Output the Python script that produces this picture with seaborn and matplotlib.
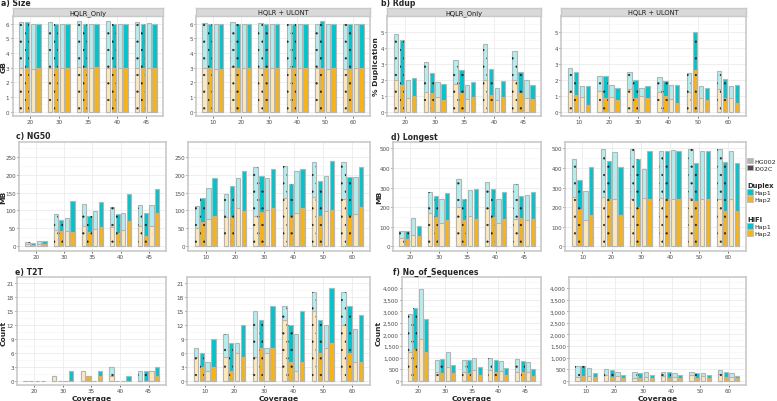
import numpy as np
import pandas as pd
import matplotlib
matplotlib.use("Agg")
import matplotlib.pyplot as plt
from matplotlib.patches import Rectangle, Patch
from matplotlib.ticker import FuncFormatter, MultipleLocator
import seaborn as sns

# --- DATA ---
COV_ONLY = ["20", "30", "35", "40", "45"]
COV_ULONT = ["10", "20", "30", "40", "50", "60"]
# bar order inside each coverage group
BAR_ORDER = ["Duplex HG002", "Duplex I002C", "HiFi HG002", "HiFi I002C"]

# a) Size (GB): total height (Hap1 + Hap2) and Hap2 part
SIZE_ONLY_TOTAL = [[6.1, 6.1, 5.95, 6.0], [6.1, 6.0, 6.0, 6.0], [6.15, 6.0, 5.95, 6.0], [6.15, 6.0, 6.0, 6.0], [6.1, 6.0, 6.05, 6.0]]
SIZE_ONLY_HAP2 = [[3.0, 3.0, 2.9, 2.95], [3.0, 3.0, 2.95, 3.0], [3.05, 3.0, 2.95, 3.05], [3.0, 3.0, 2.95, 3.0], [3.0, 2.95, 3.0, 3.0]]
SIZE_ULONT_TOTAL = [[6.05, 6.0, 5.95, 6.0], [6.1, 6.0, 5.95, 6.0], [6.05, 6.0, 5.95, 6.0], [6.0, 6.0, 6.0, 6.0], [6.0, 6.15, 5.95, 6.0], [6.0, 6.0, 5.95, 6.0]]
SIZE_ULONT_HAP2 = [[3.0, 3.0, 2.9, 2.9], [3.05, 3.0, 2.95, 2.95], [2.95, 3.0, 2.95, 2.95], [3.0, 2.95, 2.95, 2.95], [2.95, 3.0, 2.9, 2.95], [2.9, 2.9, 2.95, 2.95]]

# b) Rdup (% duplication)
RDUP_ONLY_TOTAL = [[4.83, 4.48, 1.95, 2.10], [3.13, 2.39, 1.83, 1.70], [3.26, 2.59, 1.64, 1.87], [4.25, 2.66, 1.45, 1.91], [3.80, 2.51, 1.99, 1.66]]
RDUP_ONLY_HAP2 = [[2.01, 1.64, 0.83, 1.00], [1.20, 1.16, 0.91, 0.73], [1.74, 1.16, 0.79, 0.93], [1.95, 1.06, 0.73, 0.93], [2.01, 1.18, 0.87, 0.77]]
RDUP_ULONT_TOTAL = [[2.70, 2.45, 1.62, 1.58], [2.24, 2.20, 1.64, 1.51], [2.49, 1.95, 1.49, 1.58], [2.18, 1.89, 1.64, 1.68], [2.39, 5.00, 1.58, 1.45], [2.53, 2.03, 1.58, 1.66]]
RDUP_ULONT_HAP2 = [[1.24, 1.04, 0.89, 0.44], [1.27, 0.83, 0.91, 0.73], [1.41, 0.83, 0.95, 0.87], [1.20, 0.95, 0.77, 0.52], [1.24, 2.59, 0.83, 0.71], [1.41, 0.83, 0.87, 0.56]]

# c) NG50 (MB)
NG50_ONLY_TOTAL = [[13, 9, 15, 15], [90, 73, 79, 127], [118, 84, 99, 123], [111, 90, 94, 147], [116, 92, 114, 161]]
NG50_ONLY_HAP2 = [[6, 5, 8, 7], [46, 43, 42, 39], [57, 39, 48, 55], [55, 36, 45, 70], [56, 29, 56, 92]]
NG50_ULONT_TOTAL = [[113, 135, 164, 190], [145, 169, 190, 209], [222, 195, 191, 216], [225, 173, 211, 217], [234, 182, 196, 237], [235, 192, 192, 220]]
NG50_ULONT_HAP2 = [[52, 69, 77, 86], [82, 83, 107, 98], [86, 97, 102, 107], [135, 86, 92, 106], [138, 85, 99, 102], [131, 85, 91, 109]]

# d) Longest (MB)
LONG_ONLY_TOTAL = [[78, 78, 143, 104], [276, 255, 240, 272], [345, 243, 286, 293], [327, 293, 241, 276], [316, 255, 262, 276]]
LONG_ONLY_HAP2 = [[41, 37, 58, 53], [172, 150, 121, 133], [199, 136, 156, 139], [194, 150, 117, 139], [138, 143, 133, 139]]
LONG_ULONT_TOTAL = [[446, 338, 282, 403], [497, 434, 480, 403], [497, 446, 393, 485], [485, 485, 490, 485], [497, 427, 485, 485], [497, 432, 485, 427]]
LONG_ULONT_HAP2 = [[250, 192, 136, 160], [250, 241, 241, 160], [241, 202, 245, 241], [248, 241, 241, 241], [248, 233, 241, 241], [243, 180, 241, 182]]

# e) T2T (count)
T2T_ONLY_TOTAL = [[0, 0, 0, 0], [1, 0, 0, 2], [2, 1, 0, 2], [3, 0, 0, 1], [2, 2, 2, 3]]
T2T_ONLY_HAP2 = [[0, 0, 0, 0], [1, 0, 0, 0], [2, 1, 0, 1], [1, 0, 0, 0], [0, 0, 2, 1]]
T2T_ULONT_TOTAL = [[7, 6, 4, 9], [10, 8, 8, 12], [15, 13, 7, 16], [16, 12, 10, 15], [19, 13, 12, 20], [19, 16, 11, 14]]
T2T_ULONT_HAP2 = [[5, 3, 2, 3], [5, 2, 6, 5], [5, 7, 6, 7], [13, 4, 2, 4], [15, 6, 7, 8], [12, 6, 4, 4]]

# f) No_of_Sequences (count)
SEQ_ONLY_TOTAL = [[2886, 3157, 3957, 2686], [900, 957, 1257, 657], [900, 900, 1000, 586], [986, 886, 843, 529], [943, 857, 786, 500]]
SEQ_ONLY_HAP2 = [[1229, 1357, 1786, 1243], [371, 343, 586, 329], [386, 343, 457, 243], [457, 357, 414, 243], [386, 357, 357, 186]]
SEQ_ULONT_TOTAL = [[643, 614, 543, 329], [486, 443, 386, 243], [371, 329, 371, 243], [371, 357, 314, 229], [386, 329, 343, 243], [457, 357, 343, 200]]
SEQ_ULONT_HAP2 = [[157, 186, 214, 143], [257, 171, 186, 100], [129, 129, 171, 100], [214, 100, 157, 100], [229, 114, 200, 100], [286, 143, 143, 100]]

# --- STYLE ---
W, H = 777, 402
CYAN = "#00c5cc"
CYAN_L = "#b3eeef"
ORANGE = "#f8b315"
ORANGE_L = "#fde8b9"
EDGE = "#b5b5b5"
GRID = "#ebebeb"
BORDER = "#c9c9c9"

sns.set_theme(style="white")
plt.rcParams["font.family"] = ["DejaVu Sans"]
plt.rcParams["hatch.linewidth"] = 0.35


def px_rect(x0, y0, x1, y1):
    return [x0 / W, 1 - y1 / H, (x1 - x0) / W, (y1 - y0) / H]


def make_df(covs, totals, hap2s):
    rows = []
    for cov, tot_row, h2_row in zip(covs, totals, hap2s):
        for bar, tot, h2 in zip(BAR_ORDER, tot_row, h2_row):
            rows.append({"cov": cov, "bar": bar, "total": tot, "hap2": h2})
    return pd.DataFrame(rows)


def draw_facet(fig, rect, covs, totals, hap2s, ylim, step, fmt=None,
               strip=None, xlabel=None):
    ax = fig.add_axes(px_rect(*rect))
    df = make_df(covs, totals, hap2s)
    common = dict(data=df, x="cov", hue="bar", order=covs, hue_order=BAR_ORDER,
                  width=0.8, gap=0.25, saturation=1, errorbar=None,
                  edgecolor=EDGE, linewidth=0.8, legend=False, ax=ax)
    sns.barplot(y="total", palette=[CYAN_L, CYAN, CYAN_L, CYAN], **common)
    sns.barplot(y="hap2", palette=[ORANGE_L, ORANGE, ORANGE_L, ORANGE], **common)

    # dotted pattern on the Duplex bars
    for cont in ax.containers[:2]:
        for p in cont:
            ax.add_patch(Rectangle(p.get_xy(), p.get_width(), p.get_height(),
                                   fill=False, hatch="..", edgecolor="#222222",
                                   linewidth=0, zorder=5))

    ax.set_xlim(-0.6, len(covs) - 0.4)
    ax.set_ylim(*ylim)
    ax.yaxis.set_major_locator(MultipleLocator(step))
    ax.yaxis.set_minor_locator(MultipleLocator(step / 2))
    if fmt is not None:
        ax.yaxis.set_major_formatter(FuncFormatter(fmt))
    ax.set_axisbelow(True)
    ax.grid(True, which="major", color=GRID, linewidth=0.6)
    ax.grid(True, which="minor", axis="y", color="#f4f4f4", linewidth=0.4)
    for sp in ax.spines.values():
        sp.set_color(BORDER)
        sp.set_linewidth(1.2)
    ax.tick_params(axis="both", which="major", labelsize=4.1, labelcolor="#4d4d4d",
                   length=1.5, width=0.5, color="#333333", pad=0.8, left=True, bottom=True)
    ax.tick_params(axis="both", which="minor", length=0)
    ax.set_ylabel("")
    ax.set_xlabel("")
    x0, y0, x1, y1 = rect
    if xlabel:
        fig.text((x0 + x1) / 2 / W, 1 - 398.8 / H, xlabel, fontsize=5.4,
                 fontweight="bold", ha="center", va="center")

    if strip:
        sax = fig.add_axes(px_rect(x0, y0 - 8, x1, y0))
        sax.set_facecolor("#d9d9d9")
        sax.set_xticks([])
        sax.set_yticks([])
        for sp in sax.spines.values():
            sp.set_color(BORDER)
            sp.set_linewidth(1.0)
        sax.text(0.5, 0.45, strip, ha="center", va="center", fontsize=4.8,
                 color="#1a1a1a", transform=sax.transAxes)
    return ax


def comma(v, pos):
    return f"{int(v):,}"


fig = plt.figure(figsize=(W / 100, H / 100), dpi=100)

R1 = (17, 117.3)
R2 = (143.3, 251.7)
R3 = (278.3, 386.3)

# a) Size
draw_facet(fig, (12.5, R1[0], 163.3, R1[1]), COV_ONLY, SIZE_ONLY_TOTAL, SIZE_ONLY_HAP2,
           (-0.32, 6.52), 1, strip="HQLR_Only")
draw_facet(fig, (196, R1[0], 370, R1[1]), COV_ULONT, SIZE_ULONT_TOTAL, SIZE_ULONT_HAP2,
           (-0.32, 6.52), 1, strip="HQLR + ULONT")
# b) Rdup
draw_facet(fig, (387.3, R1[0], 541.3, R1[1]), COV_ONLY, RDUP_ONLY_TOTAL, RDUP_ONLY_HAP2,
           (-0.29, 5.98), 1, strip="HQLR_Only")
draw_facet(fig, (561, R1[0], 745.7, R1[1]), COV_ULONT, RDUP_ULONT_TOTAL, RDUP_ULONT_HAP2,
           (-0.29, 5.98), 1, strip="HQLR + ULONT")
# c) NG50
draw_facet(fig, (19, R2[0], 165.7, R2[1]), COV_ONLY, NG50_ONLY_TOTAL, NG50_ONLY_HAP2,
           (-12, 290), 50)
draw_facet(fig, (188, R2[0], 370, R2[1]), COV_ULONT, NG50_ULONT_TOTAL, NG50_ULONT_HAP2,
           (-12, 290), 50)
# d) Longest
draw_facet(fig, (393, R2[0], 541.3, R2[1]), COV_ONLY, LONG_ONLY_TOTAL, LONG_ONLY_HAP2,
           (-22, 531), 100)
draw_facet(fig, (565, R2[0], 745.7, R2[1]), COV_ULONT, LONG_ULONT_TOTAL, LONG_ULONT_HAP2,
           (-22, 531), 100)
# e) T2T
draw_facet(fig, (17, R3[0], 165.7, R3[1]), COV_ONLY, T2T_ONLY_TOTAL, T2T_ONLY_HAP2,
           (-1, 22.2), 3, xlabel="Coverage")
draw_facet(fig, (187, R3[0], 370, R3[1]), COV_ULONT, T2T_ULONT_TOTAL, T2T_ULONT_HAP2,
           (-1, 22.2), 3, xlabel="Coverage")
# f) No_of_Sequences
draw_facet(fig, (402, R3[0], 541.3, R3[1]), COV_ONLY, SEQ_ONLY_TOTAL, SEQ_ONLY_HAP2,
           (-200, 4470), 500, fmt=comma, xlabel="Coverage")
draw_facet(fig, (569, R3[0], 745.7, R3[1]), COV_ULONT, SEQ_ULONT_TOTAL, SEQ_ULONT_HAP2,
           (-200, 4470), 500, fmt=comma, xlabel="Coverage")

# panel titles
titles = [("a) Size", 1, 3.5), ("b) Rdup", 381, 3.5), ("c) NG50", 16, 137),
          ("d) Longest", 391, 137), ("e) T2T", 15, 272), ("f) No_of_Sequences", 393, 272)]
for txt, x, y in titles:
    fig.text(x / W, 1 - y / H, txt, fontsize=5.6, fontweight="bold", va="center", ha="left")

# y axis labels
ylabels = [("GB", 3.2, 67), ("% Duplication", 376, 67), ("MB", 3.2, 197),
           ("MB", 379, 197), ("Count", 3.2, 333), ("Count", 379, 333)]
for txt, x, y in ylabels:
    fig.text(x / W, 1 - y / H, txt, fontsize=5.4, fontweight="bold", rotation=90,
             va="center", ha="center")

# legends
leg_kw = dict(loc="upper left", frameon=False, fontsize=4.6, title_fontsize=4.9,
              handlelength=0.9, handleheight=0.9, handletextpad=0.3,
              labelspacing=0.2, borderpad=0, borderaxespad=0, alignment="left")
sample_handles = [Patch(facecolor="#b3b3b3", edgecolor=EDGE, linewidth=0.5),
                  Patch(facecolor="#4d4d4d", edgecolor=EDGE, linewidth=0.5)]
lg1 = fig.legend(sample_handles, ["HG002", "I002C"], bbox_to_anchor=(747 / W, 1 - 159 / H), **leg_kw)
dup_handles = [Patch(facecolor=CYAN, edgecolor=EDGE, hatch="..", linewidth=0.5),
               Patch(facecolor=ORANGE, edgecolor=EDGE, hatch="..", linewidth=0.5)]
lg2 = fig.legend(dup_handles, ["Hap1", "Hap2"], title="Duplex",
                 bbox_to_anchor=(747 / W, 1 - 183 / H), **leg_kw)
hifi_handles = [Patch(facecolor=CYAN, edgecolor=EDGE, linewidth=0.5),
                Patch(facecolor=ORANGE, edgecolor=EDGE, linewidth=0.5)]
lg3 = fig.legend(hifi_handles, ["Hap1", "Hap2"], title="HiFi",
                 bbox_to_anchor=(747 / W, 1 - 217 / H), **leg_kw)
for lg in (lg2, lg3):
    lg.get_title().set_fontweight("bold")

fig.savefig("out.png", dpi=100)
